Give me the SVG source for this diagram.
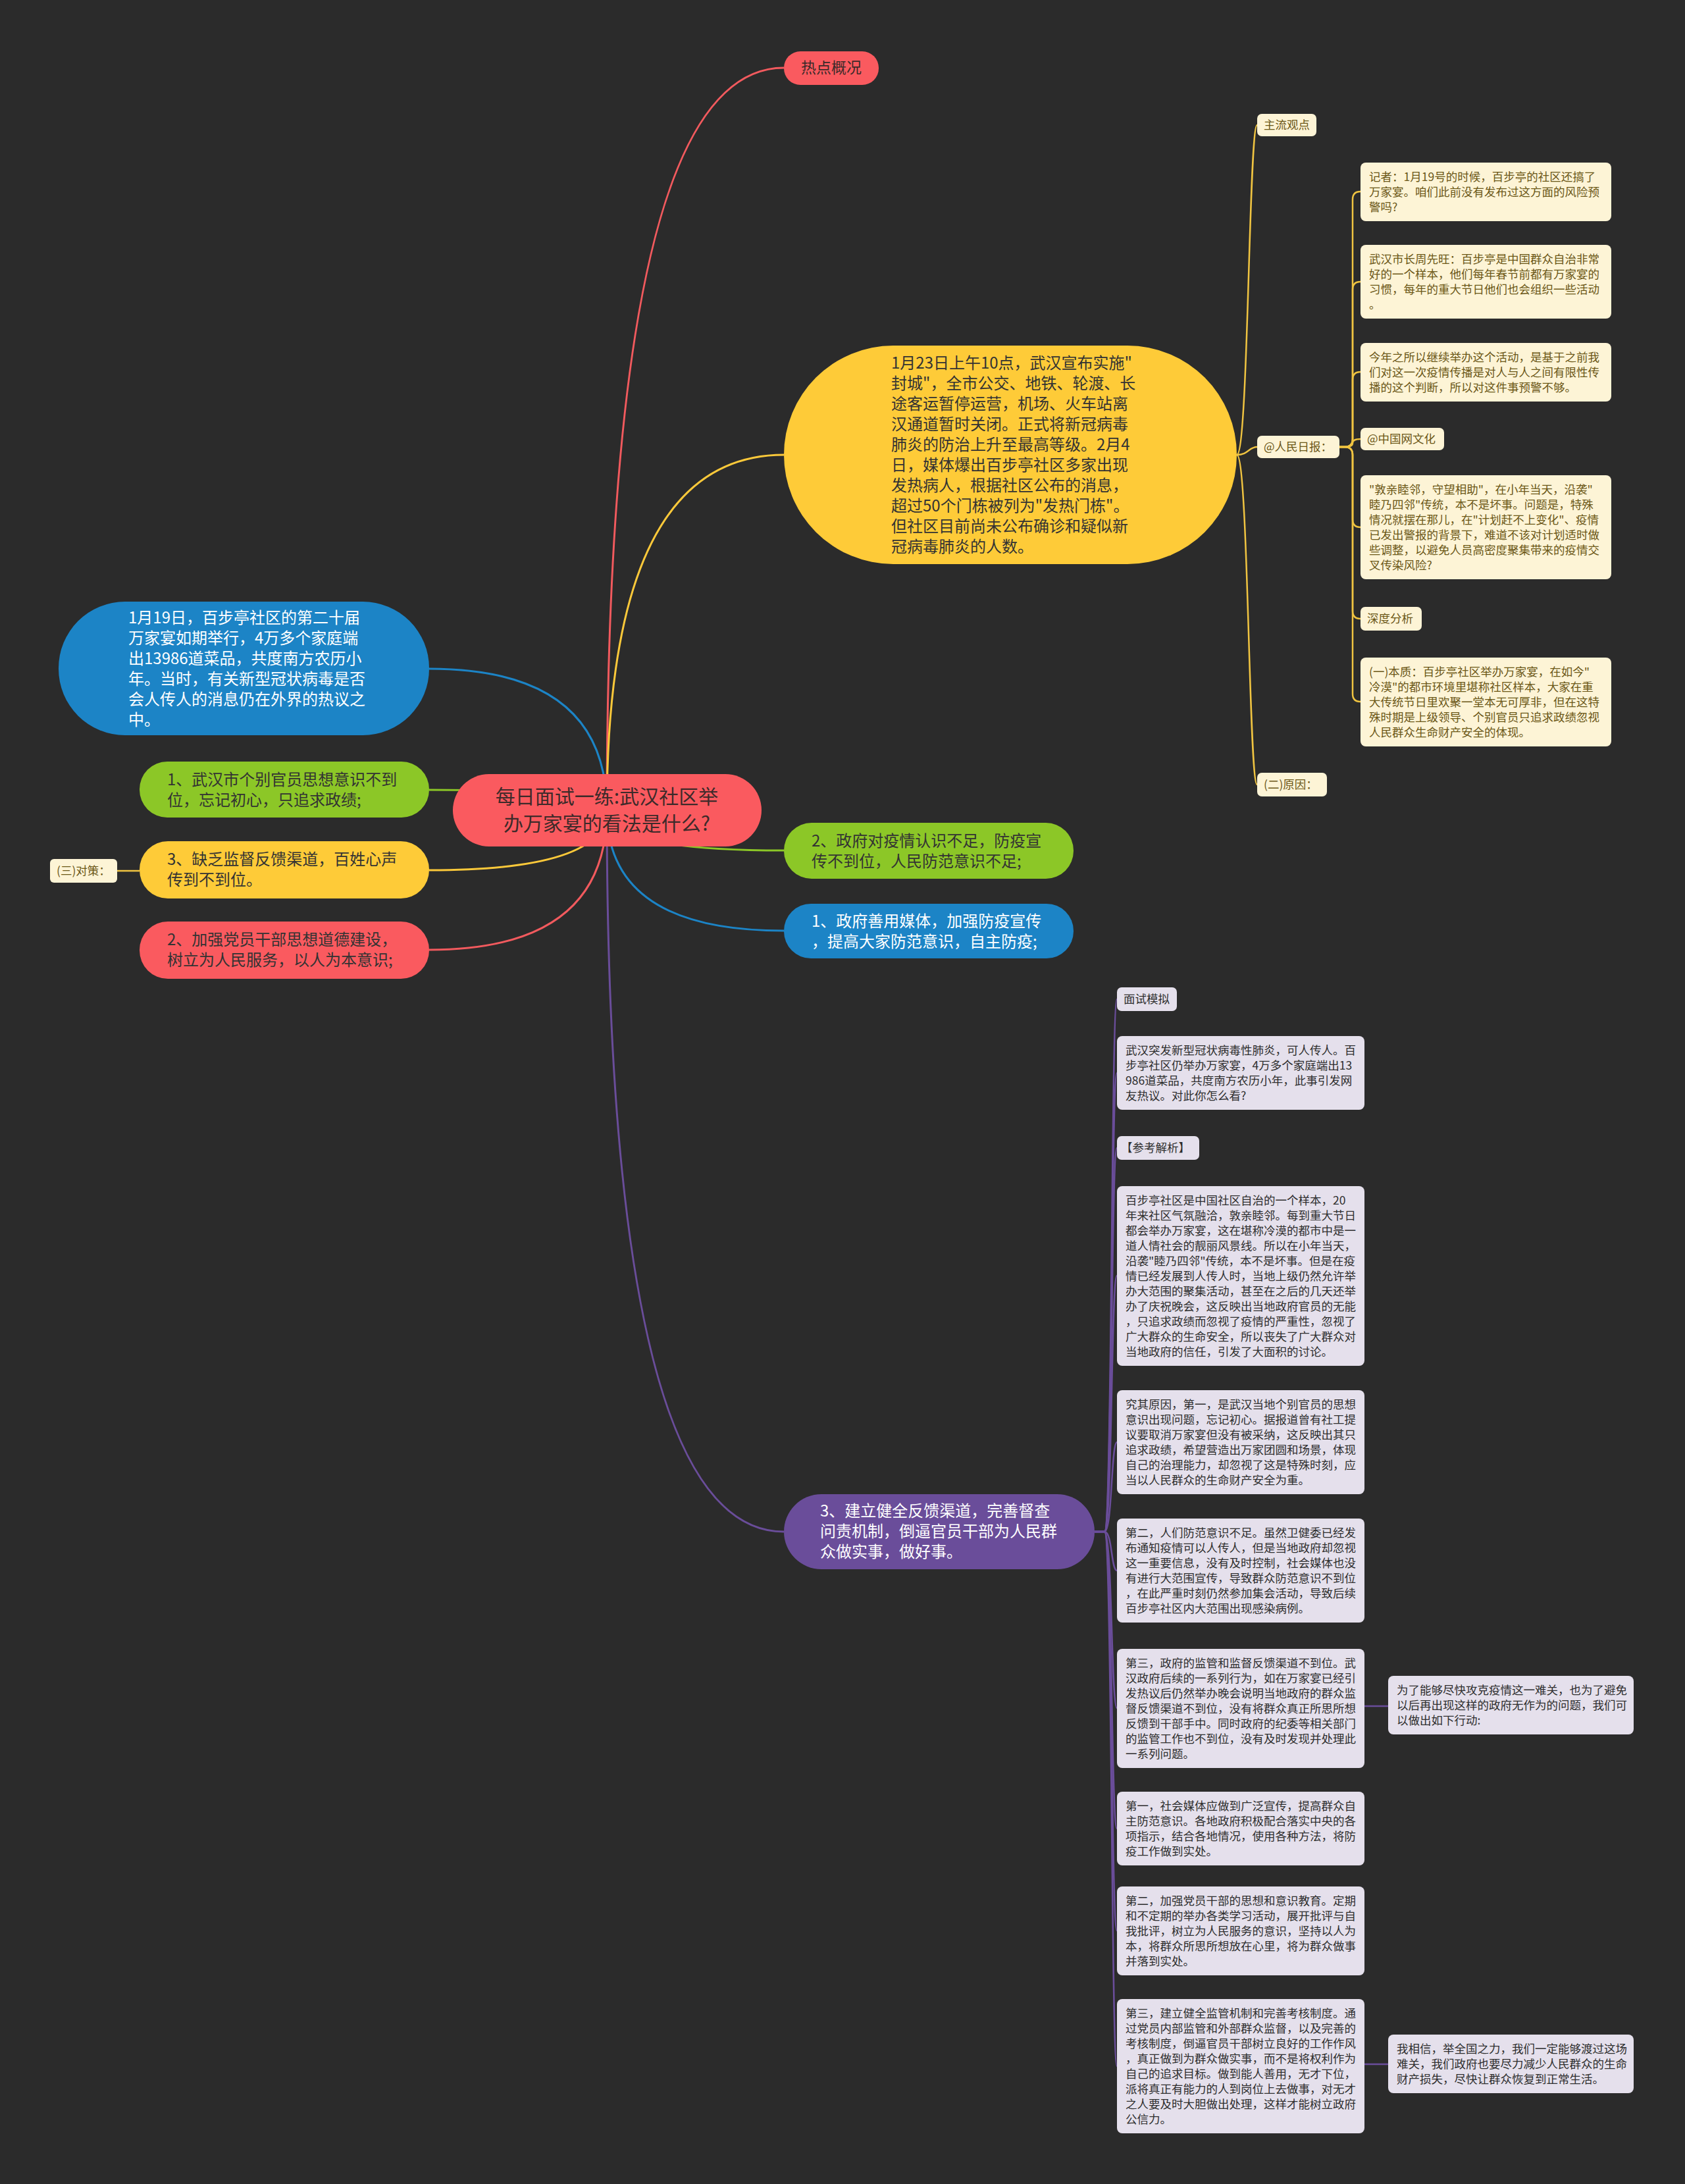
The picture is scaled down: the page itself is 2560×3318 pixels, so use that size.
<svg xmlns="http://www.w3.org/2000/svg" width="2560" height="3318" viewBox="0 0 2560 3318">
<style>
text{font-family:"Noto Sans CJK SC","Noto Sans",sans-serif}
.n24{font-size:24px}
.dk{fill:#333333}
.wt{fill:#ffffff}
.cn rect{fill:#fdf4d6}
.cn text{fill:#6b5716;font-size:17.5px}
.pn rect{fill:#e5e0ec}
.pn text{fill:#2e2e2e;font-size:17.5px}
.lk path{fill:none;stroke-width:3}
.sub path{fill:none;stroke-width:2.5}
</style>
<rect width="2560" height="3318" fill="#2b2b2b"/>
<g id="connectors">
<g class="lk">
<path d="M922 1231 Q922 103 1191 103" stroke="#f25a5e"/>
<path d="M922 1231 Q922 691 1191 691" stroke="#fcc93a"/>
<path d="M922 1231 Q922 1016 652 1016" stroke="#1c84c6"/>
<path d="M922 1231 Q922 1200 652 1200" stroke="#8cc727"/>
<path d="M922 1231 Q922 1322 652 1322" stroke="#fcc93a"/>
<path d="M922 1231 Q922 1443 652 1443" stroke="#f25a5e"/>
<path d="M922 1231 Q922 1292 1191 1292" stroke="#8cc727"/>
<path d="M922 1231 Q922 1414 1191 1414" stroke="#1c84c6"/>
<path d="M922 1231 Q922 2327 1191 2327" stroke="#6a4d9a"/>
</g>
<g class="sub" stroke="#f0c441">
<path d="M178 1323 L212 1323"/>
<path d="M1879 691 C1897 691 1897 190 1910 190"/>
<path d="M1879 691 C1897 691 1897 679 1910 679"/>
<path d="M1879 691 C1897 691 1897 1192 1910 1192"/>
<path d="M2035 679 L2043 679 Q2055 679 2055 667 L2055 303 Q2055 291 2067 291"/>
<path d="M2035 679 L2043 679 Q2055 679 2055 667 L2055 440 Q2055 428 2067 428"/>
<path d="M2035 679 L2043 679 Q2055 679 2055 667 L2055 577 Q2055 565 2067 565"/>
<path d="M2035 679 L2043 679 Q2055 679 2055 673 Q2055 667 2067 667"/>
<path d="M2035 679 L2043 679 Q2055 679 2055 691 L2055 789 Q2055 801 2067 801"/>
<path d="M2035 679 L2043 679 Q2055 679 2055 691 L2055 928 Q2055 940 2067 940"/>
<path d="M2035 679 L2043 679 Q2055 679 2055 691 L2055 1054 Q2055 1066 2067 1066"/>
</g>
<g class="sub" stroke="#6a4d9a">
<path d="M1663 2327 L1678 2327 C1690 2327 1688 1518 1697 1518"/>
<path d="M1663 2327 L1678 2327 C1690 2327 1688 1630 1697 1630"/>
<path d="M1663 2327 L1678 2327 C1690 2327 1688 1744 1697 1744"/>
<path d="M1663 2327 L1678 2327 C1690 2327 1688 1938 1697 1938"/>
<path d="M1663 2327 L1678 2327 C1690 2327 1688 2191 1697 2191"/>
<path d="M1663 2327 L1678 2327 C1690 2327 1688 2386 1697 2386"/>
<path d="M1663 2327 L1678 2327 C1690 2327 1688 2595 1697 2595"/>
<path d="M1663 2327 L1678 2327 C1690 2327 1688 2778 1697 2778"/>
<path d="M1663 2327 L1678 2327 C1690 2327 1688 2933 1697 2933"/>
<path d="M1663 2327 L1678 2327 C1690 2327 1688 3139 1697 3139"/>
<path d="M2073 2592 L2109 2592"/>
<path d="M2073 3136 L2109 3136"/>
</g>
</g>

<g id="root">
<rect x="688" y="1176" width="469" height="110" rx="55" fill="#fa5a5f"/>
<text x="922" y="1221" text-anchor="middle" font-size="30" fill="#3d2a2a">每日面试一练:武汉社区举</text>
<text x="922" y="1262" text-anchor="middle" font-size="30" fill="#3d2a2a">办万家宴的看法是什么?</text>
</g>

<g id="n-hot">
<rect x="1191" y="78" width="144" height="51" rx="25" fill="#fa5a5f"/>
<text x="1263" y="111" text-anchor="middle" font-size="23" fill="#3d2a2a">热点概况</text>
</g>

<g id="n-yellow-big">
<rect x="1191" y="525" width="688" height="332" rx="166" fill="#fecb38"/>
<text class="n24 dk" x="1354" y="560"><tspan x="1354">1月23日上午10点，武汉宣布实施"</tspan><tspan x="1354" dy="31">封城"，全市公交、地铁、轮渡、长</tspan><tspan x="1354" dy="31">途客运暂停运营，机场、火车站离</tspan><tspan x="1354" dy="31">汉通道暂时关闭。正式将新冠病毒</tspan><tspan x="1354" dy="31">肺炎的防治上升至最高等级。2月4</tspan><tspan x="1354" dy="31">日，媒体爆出百步亭社区多家出现</tspan><tspan x="1354" dy="31">发热病人，根据社区公布的消息，</tspan><tspan x="1354" dy="31">超过50个门栋被列为"发热门栋"。</tspan><tspan x="1354" dy="31">但社区目前尚未公布确诊和疑似新</tspan><tspan x="1354" dy="31">冠病毒肺炎的人数。</tspan></text>
</g>

<g id="n-blue-0119">
<rect x="89" y="914" width="563" height="203" rx="101" fill="#1c84c6"/>
<text class="n24 wt" x="195" y="947"><tspan x="195">1月19日，百步亭社区的第二十届</tspan><tspan x="195" dy="31">万家宴如期举行，4万多个家庭端</tspan><tspan x="195" dy="31">出13986道菜品，共度南方农历小</tspan><tspan x="195" dy="31">年。当时，有关新型冠状病毒是否</tspan><tspan x="195" dy="31">会人传人的消息仍在外界的热议之</tspan><tspan x="195" dy="31">中。</tspan></text>
</g>

<g id="n-green-1">
<rect x="212" y="1157" width="440" height="85" rx="42" fill="#8cc727"/>
<text class="n24 dk" x="254" y="1193"><tspan x="254">1、武汉市个别官员思想意识不到</tspan><tspan x="254" dy="31">位，忘记初心，只追求政绩;</tspan></text>
</g>

<g id="n-yellow-3">
<rect x="212" y="1278" width="440" height="87" rx="43" fill="#fecb38"/>
<text class="n24 dk" x="254" y="1314"><tspan x="254">3、缺乏监督反馈渠道，百姓心声</tspan><tspan x="254" dy="31">传到不到位。</tspan></text>
</g>

<g id="n-duice" class="cn">
<rect x="76" y="1305" width="102" height="36" rx="6"/>
<text x="86" y="1329">(三)对策：</text>
</g>

<g id="n-red-2">
<rect x="212" y="1400" width="440" height="87" rx="43" fill="#fa5a5f"/>
<text class="n24 dk" x="254" y="1436"><tspan x="254">2、加强党员干部思想道德建设，</tspan><tspan x="254" dy="31">树立为人民服务，以人为本意识;</tspan></text>
</g>

<g id="n-green-2">
<rect x="1191" y="1250" width="440" height="85" rx="42" fill="#8cc727"/>
<text class="n24 dk" x="1233" y="1286"><tspan x="1233">2、政府对疫情认识不足，防疫宣</tspan><tspan x="1233" dy="31">传不到位，人民防范意识不足;</tspan></text>
</g>

<g id="n-blue-1">
<rect x="1191" y="1373" width="440" height="83" rx="41" fill="#1c84c6"/>
<text class="n24 wt" x="1233" y="1408"><tspan x="1233">1、政府善用媒体，加强防疫宣传</tspan><tspan x="1233" dy="31">，提高大家防范意识，自主防疫;</tspan></text>
</g>

<g id="n-purple-3">
<rect x="1191" y="2270" width="472" height="114" rx="57" fill="#6a4d9a"/>
<text class="n24 wt" x="1246" y="2304"><tspan x="1246">3、建立健全反馈渠道，完善督查</tspan><tspan x="1246" dy="31">问责机制，倒逼官员干部为人民群</tspan><tspan x="1246" dy="31">众做实事，做好事。</tspan></text>
</g>

<g id="n-zhuliu" class="cn">
<rect x="1910" y="173" width="90" height="34" rx="7"/>
<text x="1920" y="196">主流观点</text>
</g>
<g id="n-renmin" class="cn">
<rect x="1910" y="662" width="125" height="34" rx="7"/>
<text x="1920" y="685">@人民日报：</text>
</g>
<g id="n-yuanyin" class="cn">
<rect x="1910" y="1174" width="106" height="36" rx="7"/>
<text x="1920" y="1198">(二)原因：</text>
</g>

<g id="n-jizhe" class="cn">
<rect x="2067" y="247" width="381" height="89" rx="8"/>
<text x="2080" y="275"><tspan x="2080">记者：1月19号的时候，百步亭的社区还搞了</tspan><tspan x="2080" dy="23">万家宴。咱们此前没有发布过这方面的风险预</tspan><tspan x="2080" dy="23">警吗?</tspan></text>
</g>
<g id="n-shizhang" class="cn">
<rect x="2067" y="372" width="381" height="112" rx="8"/>
<text x="2080" y="400"><tspan x="2080">武汉市长周先旺：百步亭是中国群众自治非常</tspan><tspan x="2080" dy="23">好的一个样本，他们每年春节前都有万家宴的</tspan><tspan x="2080" dy="23">习惯，每年的重大节日他们也会组织一些活动</tspan><tspan x="2080" dy="23">。</tspan></text>
</g>
<g id="n-jinnian" class="cn">
<rect x="2067" y="521" width="381" height="89" rx="8"/>
<text x="2080" y="549"><tspan x="2080">今年之所以继续举办这个活动，是基于之前我</tspan><tspan x="2080" dy="23">们对这一次疫情传播是对人与人之间有限性传</tspan><tspan x="2080" dy="23">播的这个判断，所以对这件事预警不够。</tspan></text>
</g>
<g id="n-zgw" class="cn">
<rect x="2067" y="650" width="127" height="34" rx="7"/>
<text x="2077" y="673">@中国网文化</text>
</g>
<g id="n-dunqin" class="cn">
<rect x="2067" y="722" width="381" height="158" rx="8"/>
<text x="2080" y="750"><tspan x="2080">"敦亲睦邻，守望相助"，在小年当天，沿袭"</tspan><tspan x="2080" dy="23">睦乃四邻"传统，本不是坏事。问题是，特殊</tspan><tspan x="2080" dy="23">情况就摆在那儿，在"计划赶不上变化"、疫情</tspan><tspan x="2080" dy="23">已发出警报的背景下，难道不该对计划适时做</tspan><tspan x="2080" dy="23">些调整，以避免人员高密度聚集带来的疫情交</tspan><tspan x="2080" dy="23">叉传染风险?</tspan></text>
</g>
<g id="n-shendu" class="cn">
<rect x="2067" y="922" width="93" height="36" rx="7"/>
<text x="2077" y="946">深度分析</text>
</g>
<g id="n-benzhi" class="cn">
<rect x="2067" y="999" width="381" height="135" rx="8"/>
<text x="2080" y="1027"><tspan x="2080">(一)本质：百步亭社区举办万家宴，在如今"</tspan><tspan x="2080" dy="23">冷漠"的都市环境里堪称社区样本，大家在重</tspan><tspan x="2080" dy="23">大传统节日里欢聚一堂本无可厚非，但在这特</tspan><tspan x="2080" dy="23">殊时期是上级领导、个别官员只追求政绩忽视</tspan><tspan x="2080" dy="23">人民群众生命财产安全的体现。</tspan></text>
</g>

<g id="n-mianshi" class="pn">
<rect x="1697" y="1500" width="91" height="36" rx="7"/>
<text x="1707" y="1524">面试模拟</text>
</g>
<g id="n-tufa" class="pn">
<rect x="1697" y="1574" width="376" height="112" rx="8"/>
<text x="1710" y="1602"><tspan x="1710">武汉突发新型冠状病毒性肺炎，可人传人。百</tspan><tspan x="1710" dy="23">步亭社区仍举办万家宴，4万多个家庭端出13</tspan><tspan x="1710" dy="23">986道菜品，共度南方农历小年，此事引发网</tspan><tspan x="1710" dy="23">友热议。对此你怎么看?</tspan></text>
</g>
<g id="n-cankao" class="pn">
<rect x="1697" y="1726" width="125" height="36" rx="7"/>
<text x="1703" y="1750">【参考解析】</text>
</g>
<g id="n-baibu" class="pn">
<rect x="1697" y="1802" width="376" height="273" rx="8"/>
<text x="1710" y="1830"><tspan x="1710">百步亭社区是中国社区自治的一个样本，20</tspan><tspan x="1710" dy="23">年来社区气氛融洽，敦亲睦邻。每到重大节日</tspan><tspan x="1710" dy="23">都会举办万家宴，这在堪称冷漠的都市中是一</tspan><tspan x="1710" dy="23">道人情社会的靓丽风景线。所以在小年当天，</tspan><tspan x="1710" dy="23">沿袭"睦乃四邻"传统，本不是坏事。但是在疫</tspan><tspan x="1710" dy="23">情已经发展到人传人时，当地上级仍然允许举</tspan><tspan x="1710" dy="23">办大范围的聚集活动，甚至在之后的几天还举</tspan><tspan x="1710" dy="23">办了庆祝晚会，这反映出当地政府官员的无能</tspan><tspan x="1710" dy="23">，只追求政绩而忽视了疫情的严重性，忽视了</tspan><tspan x="1710" dy="23">广大群众的生命安全，所以丧失了广大群众对</tspan><tspan x="1710" dy="23">当地政府的信任，引发了大面积的讨论。</tspan></text>
</g>
<g id="n-jiuqi" class="pn">
<rect x="1697" y="2112" width="376" height="158" rx="8"/>
<text x="1710" y="2140"><tspan x="1710">究其原因，第一，是武汉当地个别官员的思想</tspan><tspan x="1710" dy="23">意识出现问题，忘记初心。据报道曾有社工提</tspan><tspan x="1710" dy="23">议要取消万家宴但没有被采纳，这反映出其只</tspan><tspan x="1710" dy="23">追求政绩，希望营造出万家团圆和场景，体现</tspan><tspan x="1710" dy="23">自己的治理能力，却忽视了这是特殊时刻，应</tspan><tspan x="1710" dy="23">当以人民群众的生命财产安全为重。</tspan></text>
</g>
<g id="n-di2a" class="pn">
<rect x="1697" y="2307" width="376" height="158" rx="8"/>
<text x="1710" y="2335"><tspan x="1710">第二，人们防范意识不足。虽然卫健委已经发</tspan><tspan x="1710" dy="23">布通知疫情可以人传人，但是当地政府却忽视</tspan><tspan x="1710" dy="23">这一重要信息，没有及时控制，社会媒体也没</tspan><tspan x="1710" dy="23">有进行大范围宣传，导致群众防范意识不到位</tspan><tspan x="1710" dy="23">，在此严重时刻仍然参加集会活动，导致后续</tspan><tspan x="1710" dy="23">百步亭社区内大范围出现感染病例。</tspan></text>
</g>
<g id="n-di3a" class="pn">
<rect x="1697" y="2505" width="376" height="181" rx="8"/>
<text x="1710" y="2533"><tspan x="1710">第三，政府的监管和监督反馈渠道不到位。武</tspan><tspan x="1710" dy="23">汉政府后续的一系列行为，如在万家宴已经引</tspan><tspan x="1710" dy="23">发热议后仍然举办晚会说明当地政府的群众监</tspan><tspan x="1710" dy="23">督反馈渠道不到位，没有将群众真正所思所想</tspan><tspan x="1710" dy="23">反馈到干部手中。同时政府的纪委等相关部门</tspan><tspan x="1710" dy="23">的监管工作也不到位，没有及时发现并处理此</tspan><tspan x="1710" dy="23">一系列问题。</tspan></text>
</g>
<g id="n-weile" class="pn">
<rect x="2109" y="2546" width="373" height="89" rx="8"/>
<text x="2122" y="2574"><tspan x="2122">为了能够尽快攻克疫情这一难关，也为了避免</tspan><tspan x="2122" dy="23">以后再出现这样的政府无作为的问题，我们可</tspan><tspan x="2122" dy="23">以做出如下行动:</tspan></text>
</g>
<g id="n-di1b" class="pn">
<rect x="1697" y="2722" width="376" height="112" rx="8"/>
<text x="1710" y="2750"><tspan x="1710">第一，社会媒体应做到广泛宣传，提高群众自</tspan><tspan x="1710" dy="23">主防范意识。各地政府积极配合落实中央的各</tspan><tspan x="1710" dy="23">项指示，结合各地情况，使用各种方法，将防</tspan><tspan x="1710" dy="23">疫工作做到实处。</tspan></text>
</g>
<g id="n-di2b" class="pn">
<rect x="1697" y="2866" width="376" height="135" rx="8"/>
<text x="1710" y="2894"><tspan x="1710">第二，加强党员干部的思想和意识教育。定期</tspan><tspan x="1710" dy="23">和不定期的举办各类学习活动，展开批评与自</tspan><tspan x="1710" dy="23">我批评，树立为人民服务的意识，坚持以人为</tspan><tspan x="1710" dy="23">本，将群众所思所想放在心里，将为群众做事</tspan><tspan x="1710" dy="23">并落到实处。</tspan></text>
</g>
<g id="n-di3b" class="pn">
<rect x="1697" y="3037" width="376" height="204" rx="8"/>
<text x="1710" y="3065"><tspan x="1710">第三，建立健全监管机制和完善考核制度。通</tspan><tspan x="1710" dy="23">过党员内部监管和外部群众监督，以及完善的</tspan><tspan x="1710" dy="23">考核制度，倒逼官员干部树立良好的工作作风</tspan><tspan x="1710" dy="23">，真正做到为群众做实事，而不是将权利作为</tspan><tspan x="1710" dy="23">自己的追求目标。做到能人善用，无才下位，</tspan><tspan x="1710" dy="23">派将真正有能力的人到岗位上去做事，对无才</tspan><tspan x="1710" dy="23">之人要及时大胆做出处理，这样才能树立政府</tspan><tspan x="1710" dy="23">公信力。</tspan></text>
</g>
<g id="n-xiangxin" class="pn">
<rect x="2109" y="3091" width="373" height="89" rx="8"/>
<text x="2122" y="3119"><tspan x="2122">我相信，举全国之力，我们一定能够渡过这场</tspan><tspan x="2122" dy="23">难关，我们政府也要尽力减少人民群众的生命</tspan><tspan x="2122" dy="23">财产损失，尽快让群众恢复到正常生活。</tspan></text>
</g>
</svg>
